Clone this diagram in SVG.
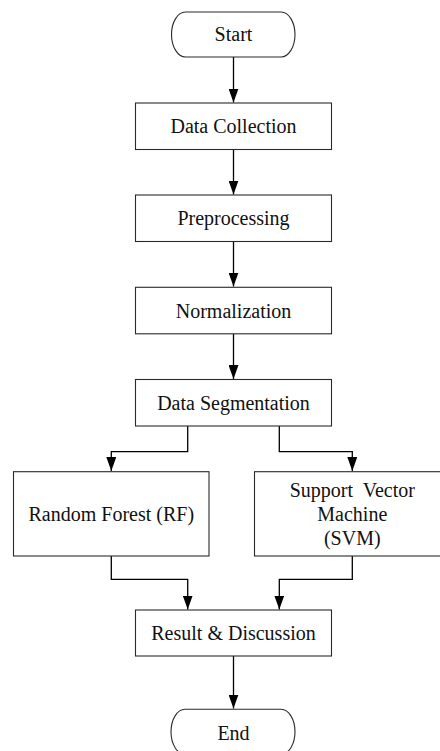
<svg xmlns="http://www.w3.org/2000/svg" width="440" height="751" viewBox="0 0 440 751">
  <style>
    .box { fill: #ffffff; stroke: #2a2a2a; stroke-width: 1.1; }
    .lbl { font-family: 'Liberation Serif', 'DejaVu Serif', 'Times New Roman', serif; font-size: 20px; fill: #111; text-anchor: middle; }
    .wire { fill: none; stroke: #000; stroke-width: 1.3; marker-end: url(#arrow); }
  </style>
  <defs>
    <marker id="arrow" markerUnits="userSpaceOnUse" markerWidth="14" markerHeight="10" viewBox="0 0 14 10" refX="14" refY="5" orient="auto">
      <path d="M0 0 L14 5 L0 10 Z" fill="#000"/>
    </marker>
  </defs>
  <rect width="440" height="751" fill="#ffffff"/>

  <!-- connectors -->
  <g id="connectors">
    <path class="wire" d="M233.5 57 V102.5"/>
    <path class="wire" d="M233.5 149.5 V194.5"/>
    <path class="wire" d="M233.5 241.5 V286.5"/>
    <path class="wire" d="M233.5 334 V379"/>
    <path class="wire" d="M187.7 426 V451.7 H111.3 V471"/>
    <path class="wire" d="M279.3 426 V451.7 H352.3 V471"/>
    <path class="wire" d="M111.3 556 V579.3 H187.7 V609.5"/>
    <path class="wire" d="M352.3 556 V579.3 H279.3 V609.5"/>
    <path class="wire" d="M233.5 656 V708.5"/>
  </g>

  <g id="start">
    <rect class="box" x="171.5" y="12" width="123.5" height="45" rx="14" ry="22.5"/>
    <text class="lbl" x="233.5" y="40.5">Start</text>
  </g>
  <g id="data-collection">
    <rect class="box" x="135.5" y="103" width="196" height="46.5"/>
    <text class="lbl" x="233.5" y="133">Data Collection</text>
  </g>
  <g id="preprocessing">
    <rect class="box" x="135.5" y="195" width="196" height="46.5"/>
    <text class="lbl" x="233.5" y="225">Preprocessing</text>
  </g>
  <g id="normalization">
    <rect class="box" x="135.5" y="287.3" width="196" height="46.5"/>
    <text class="lbl" x="233.5" y="317.5">Normalization</text>
  </g>
  <g id="data-segmentation">
    <rect class="box" x="135.5" y="379.5" width="196" height="46.5"/>
    <text class="lbl" x="233.5" y="409.5">Data Segmentation</text>
  </g>
  <g id="random-forest">
    <rect class="box" x="13.5" y="471.7" width="195.5" height="84.3"/>
    <text class="lbl" x="111.3" y="521">Random Forest (RF)</text>
  </g>
  <g id="svm">
    <rect class="box" x="254.5" y="471.7" width="196" height="84.3"/>
    <text class="lbl" x="352.3" y="497" xml:space="preserve">Support  Vector</text>
    <text class="lbl" x="352.3" y="521">Machine</text>
    <text class="lbl" x="352.3" y="545">(SVM)</text>
  </g>
  <g id="result-discussion">
    <rect class="box" x="135.5" y="610" width="196" height="46"/>
    <text class="lbl" x="233.5" y="640">Result &amp; Discussion</text>
  </g>
  <g id="end">
    <rect class="box" x="171" y="709.3" width="124" height="45" rx="14" ry="22.5"/>
    <text class="lbl" x="233.5" y="740">End</text>
  </g>
</svg>
